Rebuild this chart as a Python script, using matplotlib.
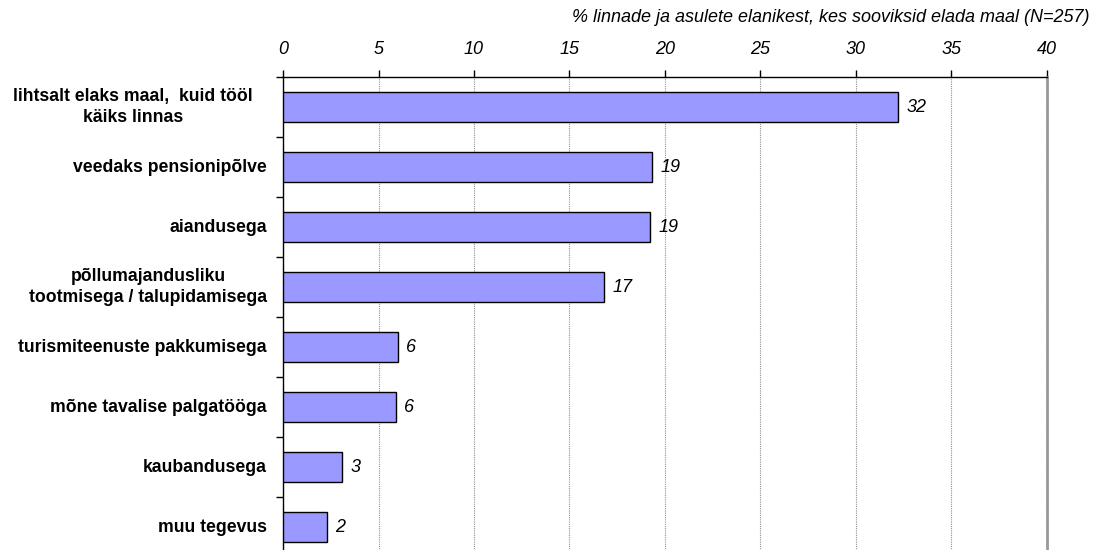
import matplotlib.pyplot as plt
import numpy as np

plt.rcParams['font.family'] = ['Liberation Sans', 'DejaVu Sans']

categories = ["lihtsalt elaks maal,  kuid tööl\nkäiks linnas",
              "veedaks pensionipõlve",
              "aiandusega",
              "põllumajandusliku\ntootmisega / talupidamisega",
              "turismiteenuste pakkumisega",
              "mõne tavalise palgatööga",
              "kaubandusega",
              "muu tegevus"]
values = [32.2, 19.3, 19.2, 16.8, 6.0, 5.9, 3.1, 2.3]
labels = ["32", "19", "19", "17", "6", "6", "3", "2"]
ticks = [0, 5, 10, 15, 20, 25, 30, 35, 40]
title = "% linnade ja asulete elanikest, kes sooviksid elada maal (N=257)"

fig = plt.figure(figsize=(10.94, 5.5), dpi=100)
# plot area runs past the bottom of the picture, as in the original
ax = fig.add_axes([283/1094, 1 - 557/550, (1047-283)/1094, (557-77)/550])

y = np.arange(len(categories))
ax.barh(y, values, height=0.5, color='#9999ff', edgecolor='black', linewidth=1, zorder=3)
for yi, v, lab in zip(y, values, labels):
    ax.text(v + 0.45, yi, lab, va='center', ha='left', fontsize=13, style='italic')

ax.set_xlim(0, 40)
ax.set_ylim(len(categories) - 0.5, -0.5)
ax.xaxis.tick_top()
ax.set_xticks(ticks)
ax.set_xticklabels([str(t) for t in ticks], fontsize=13, style='italic')
ax.tick_params(axis='x', length=5, width=1, pad=9, color='black')
ax.grid(axis='x', color='#909090', linestyle=(0, (1, 1)), linewidth=0.8, zorder=0)

# category labels drawn as text so the wrapped first one can sit a bit further left
ax.set_yticks([])
for i, (yi, cat) in enumerate(zip(y, categories)):
    off = -30 if i == 0 else -16
    ax.annotate(cat, xy=(0, yi), xytext=(off * 0.72, 0), textcoords='offset points',
                ha='right', va='center', multialignment='center', linespacing=1.25,
                fontsize=12.7, fontweight='bold', annotation_clip=False)
ax.set_yticks(np.arange(len(categories) + 1) - 0.5, minor=True)
ax.tick_params(axis='y', which='minor', length=5, width=1)

ax.spines['bottom'].set_visible(False)
ax.spines['right'].set_color('#999999')
ax.spines['right'].set_linewidth(2)
ax.spines['top'].set_linewidth(1)
ax.spines['left'].set_linewidth(1)

fig.text(1090/1094, 1 - 17/550, title, ha='right', va='center', fontsize=13, style='italic')

fig.savefig('out.png', dpi=100)
